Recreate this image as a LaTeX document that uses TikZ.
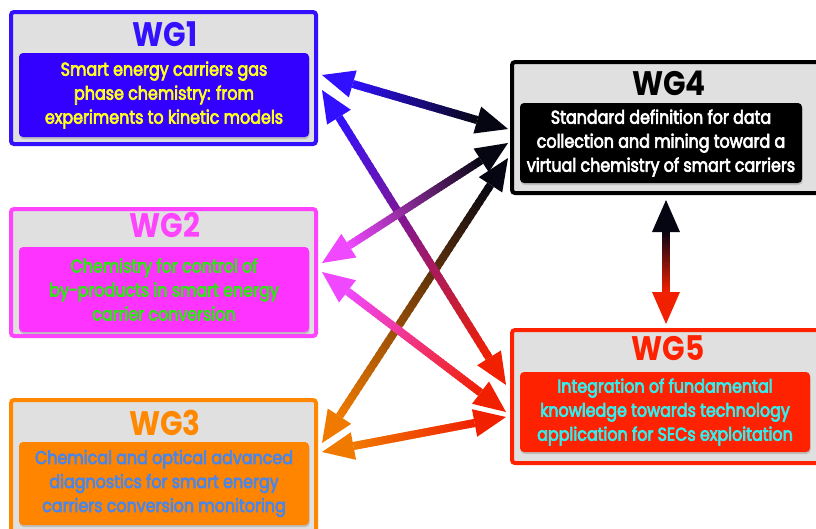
\documentclass[tikz,border=0pt]{standalone}
\usepackage{fontspec}
\setmainfont{Poppins}
\newfontfamily\wgfont{Poppins}[FakeStretch=0.87]
\newfontfamily\wgbody{Poppins}[FakeStretch=0.86, FakeBold=3.5]
\usetikzlibrary{calc,shadows}
\definecolor{wgblue}{HTML}{3311FF}
\definecolor{wgblueIn}{HTML}{3300FF}
\definecolor{wgyellow}{HTML}{FFFF22}
\definecolor{wgmag}{HTML}{FF44FF}
\definecolor{wgmagIn}{HTML}{FF33FF}
\definecolor{wggreen}{HTML}{2EE614}
\definecolor{wgorange}{HTML}{FF8800}
\definecolor{wgorIn}{HTML}{FF8400}
\definecolor{wgsky}{HTML}{4A86E8}
\definecolor{wgred}{HTML}{FF2200}
\definecolor{wgcyan}{HTML}{33EEEE}
\definecolor{wggray}{HTML}{E0E0E0}
\definecolor{wgdark}{HTML}{060612}
\definecolor{arrblue}{HTML}{3010FF}
\definecolor{arrmag}{HTML}{F048FF}
\definecolor{arrorange}{HTML}{F07A00}
\definecolor{arrred}{HTML}{F02000}
\tikzset{
  outerbox/.style={draw=#1, line width=4pt, fill=wggray, rounded corners=3pt, inner sep=0pt},
  innerbox/.style={fill=#1, rounded corners=4pt, inner sep=0pt, align=center,
    drop shadow={shadow xshift=0.6pt, shadow yshift=-2pt, opacity=0.35},
    font=\wgbody\fontsize{18.5}{24}\selectfont},
  wgtitle/.style={font=\wgfont\bfseries\fontsize{34}{34}\selectfont, text=#1, inner sep=0pt},
}
% gradient double arrow: #1 start, #2 end, #3 start colour, #4 end colour
\newcommand\gradarrow[4]{%
  \coordinate (ga-bs) at ($(#1)!32pt!(#2)$);
  \coordinate (ga-be) at ($(#2)!32pt!(#1)$);
  \foreach \k in {0,...,49}{%
    \pgfmathsetmacro\pa{\k/50}%
    \pgfmathsetmacro\pb{min(1,(\k+1.5)/50)}%
    \pgfmathtruncatemacro\mix{99-2*\k}%
    \draw[line width=8pt, color=#3!\mix!#4] ($(ga-bs)!\pa!(ga-be)$) -- ($(ga-bs)!\pb!(ga-be)$);
  }
  \fill[#3] (#1) -- ($(ga-bs)!14pt!90:(#2)$) -- ($(ga-bs)!14pt!-90:(#2)$) -- cycle;
  \fill[#4] (#2) -- ($(ga-be)!14pt!90:(#1)$) -- ($(ga-be)!14pt!-90:(#1)$) -- cycle;
}
\begin{document}
\begin{tikzpicture}[x=1pt, y=-1pt]
\useasboundingbox[fill=white] (0,0) rectangle (816,528);
\begin{scope}
\clip (0,0) rectangle (816,528);
% outer boxes
\node[outerbox=wgblue,   minimum width=305pt, minimum height=132pt] (wg1) at (163.5,78) {};
\node[outerbox=wgmag,    minimum width=305pt, minimum height=127pt] (wg2) at (163.5,272.5) {};
\node[outerbox=wgorange, minimum width=305pt, minimum height=136pt] (wg3) at (163.5,468) {};
\node[outerbox=black,    minimum width=320pt, minimum height=131pt] (wg4) at (672,127.5) {};
\node[outerbox=wgred,    minimum width=320pt, minimum height=133pt] (wg5) at (672,396.5) {};
% inner boxes
\node[innerbox=wgblueIn, text=wgyellow, minimum width=290pt, minimum height=84pt] (wg1b) at (164,95)
  {Smart energy carriers gas\\phase chemistry: from\\experiments to kinetic models};
\node[innerbox=wgmagIn, text=wggreen, minimum width=290pt, minimum height=85pt] (wg2b) at (164,289.5)
  {Chemistry for control of\\by-products in smart energy\\carrier conversion};
\node[innerbox=wgorIn, text=wgsky, minimum width=290pt, minimum height=83pt] (wg3b) at (164,483.5)
  {Chemical and optical advanced\\diagnostics for smart energy\\carriers conversion monitoring};
\node[innerbox=black, text=white, minimum width=282pt, minimum height=80pt] (wg4b) at (661,143)
  {Standard definition for data\\collection and mining toward a\\virtual chemistry of smart carriers};
\node[innerbox=wgred, text=wgcyan, minimum width=290pt, minimum height=80pt] (wg5b) at (665,412)
  {Integration of fundamental\\knowledge towards technology\\application for SECs exploitation};
% titles
\node[wgtitle=wgblue]   (wg1t) at (165,34.5) {WG1};
\node[wgtitle=wgmag]    (wg2t) at (165,225)  {WG2};
\node[wgtitle=wgorange] (wg3t) at (165,423)  {WG3};
\node[wgtitle=black]    (wg4t) at (669,83)   {WG4};
\node[wgtitle=wgred]    (wg5t) at (668,348)  {WG5};
% arrow end points on the box borders
\coordinate (p14) at ($(wg1.east)+(4,-3)$);
\coordinate (p15) at ($(wg1.east)+(4,12)$);
\coordinate (p41) at ($(wg4.west)+(-2,1.5)$);
\coordinate (p42) at ($(wg4.west)+(-2,15.5)$);
\coordinate (p43) at ($(wg4.west)+(-2,30.5)$);
\coordinate (p24) at ($(wg2.east)+(4,-9.5)$);
\coordinate (p25) at ($(wg2.east)+(4,-0.5)$);
\coordinate (p51) at ($(wg5.west)+(-4,-11.5)$);
\coordinate (p52) at ($(wg5.west)+(-4,15.5)$);
\coordinate (p53) at ($(wg5.west)+(-4,20.5)$);
\coordinate (p34) at ($(wg3.east)+(4,-25)$);
\coordinate (p35) at ($(wg3.east)+(4,-16)$);
\coordinate (p45) at ($(wg4.south)+(-6,5)$);
\coordinate (p54) at ($(wg5.north)+(-6,-4)$);
% connectors
\gradarrow{p34}{p43}{arrorange}{wgdark}
\gradarrow{p35}{p53}{arrorange}{arrred}
\gradarrow{p25}{p52}{arrmag}{arrred}
\gradarrow{p14}{p41}{arrblue}{wgdark}
\gradarrow{p15}{p51}{arrblue}{arrred}
\gradarrow{p24}{p42}{arrmag}{wgdark}
\gradarrow{p45}{p54}{wgdark}{arrred}
\end{scope}
\end{tikzpicture}
\end{document}
